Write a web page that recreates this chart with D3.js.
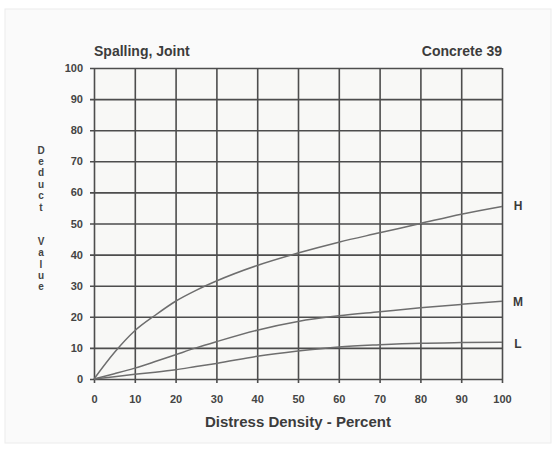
<!DOCTYPE html>
<html>
<head>
<meta charset="utf-8">
<script src="https://cdn.jsdelivr.net/npm/d3@7"></script>
<style>
  html, body { margin: 0; padding: 0; background: #ffffff; }
  svg { display: block; }
  text { font-family: "Liberation Sans", Arial, sans-serif; }
</style>
</head>
<body>
<svg id="chart" width="559" height="454"></svg>
<script>
// Distress density (percent) at which each curve is sampled
const density = [0, 5, 10, 15, 20, 25, 30, 40, 50, 60, 70, 80, 90, 100];
// Deduct values per severity level
const highValues   = [0, 8.5, 15.5, 20.5, 25, 28.5, 31.5, 36.5, 40.5, 44, 47, 50, 53, 55.5];
const mediumValues = [0, 1.7, 3.5, 5.6, 7.8, 10, 12, 15.7, 18.5, 20.3, 21.6, 22.9, 24, 25];
const lowValues    = [0, 0.7, 1.5, 2.2, 3, 4, 5, 7.3, 9, 10.3, 11, 11.5, 11.7, 11.8];
const severityLabels = ["H", "M", "L"];
const xTicks = [0, 10, 20, 30, 40, 50, 60, 70, 80, 90, 100];
const yTicks = [0, 10, 20, 30, 40, 50, 60, 70, 80, 90, 100];

const svg = d3.select("#chart");

// paper card
svg.append("rect")
  .attr("x", 5).attr("y", 9).attr("width", 546).attr("height", 434)
  .attr("fill", "#fafafa").attr("stroke", "#ececec").attr("stroke-width", 1);

const plotLeft = 94, plotRight = 502, plotTop = 68, plotBottom = 379;
const w = plotRight - plotLeft, h = plotBottom - plotTop;

const x = d3.scaleLinear().domain([0, 100]).range([plotLeft, plotRight]);
const y = d3.scaleLinear().domain([0, 100]).range([plotBottom, plotTop]);

// plot background
svg.append("rect")
  .attr("x", plotLeft).attr("y", plotTop).attr("width", w).attr("height", h)
  .attr("fill", "#f8f8f6");

const gridColor = "#4d4d4d";

// horizontal grid lines with value labels
const yAxis = svg.append("g")
  .attr("transform", `translate(${plotRight},0)`)
  .call(d3.axisLeft(y).tickValues(yTicks).tickSize(w + 4).tickPadding(7));
yAxis.select(".domain").remove();
yAxis.selectAll("line").attr("stroke", gridColor).attr("stroke-width", 1.6);
yAxis.selectAll("text")
  .attr("fill", "#444").attr("font-size", 11).attr("font-weight", "bold");

// vertical grid lines with value labels
const xAxis = svg.append("g")
  .attr("transform", `translate(0,${plotTop})`)
  .call(d3.axisBottom(x).tickValues(xTicks).tickSize(h + 4).tickPadding(12));
xAxis.select(".domain").remove();
xAxis.selectAll("line").attr("stroke", gridColor).attr("stroke-width", 1.6);
xAxis.selectAll("text")
  .attr("fill", "#444").attr("font-size", 11).attr("font-weight", "bold");

// deduct curves
const series = [highValues, mediumValues, lowValues];
const line = d3.line()
  .x((d, i) => x(density[i]))
  .y(d => y(d))
  .curve(d3.curveMonotoneX);

svg.append("g").selectAll("path")
  .data(series)
  .join("path")
  .attr("d", d => line(d))
  .attr("fill", "none")
  .attr("stroke", "#6e6e6e")
  .attr("stroke-width", 1.5);

// severity labels at curve ends
const labelOffsets = [-1, 1, 1];
svg.append("g").selectAll("text")
  .data(series)
  .join("text")
  .attr("x", plotRight + 16)
  .attr("y", (d, i) => y(d[d.length - 1]) + labelOffsets[i])
  .attr("dy", "0.35em")
  .attr("text-anchor", "middle")
  .attr("font-size", 12)
  .attr("font-weight", "bold")
  .attr("fill", "#3a3a3a")
  .text((d, i) => severityLabels[i]);

// chart headings
svg.append("text")
  .attr("x", plotLeft).attr("y", 56)
  .attr("font-size", 14).attr("font-weight", "bold").attr("fill", "#3c3c3c")
  .text("Spalling, Joint");
svg.append("text")
  .attr("x", plotRight).attr("y", 56)
  .attr("text-anchor", "end")
  .attr("font-size", 14).attr("font-weight", "bold").attr("fill", "#3c3c3c")
  .text("Concrete 39");

// x axis title
svg.append("text")
  .attr("x", (plotLeft + plotRight) / 2).attr("y", 427)
  .attr("text-anchor", "middle")
  .attr("font-size", 15).attr("font-weight", "bold").attr("fill", "#3c3c3c")
  .text("Distress Density - Percent");

// y axis title, letters stacked vertically
const yTitle = "Deduct  Value".split("");
svg.append("g").selectAll("text")
  .data(yTitle)
  .join("text")
  .attr("x", 41)
  .attr("y", (d, i) => 150 + i * 11.4)
  .attr("dy", "0.35em")
  .attr("text-anchor", "middle")
  .attr("font-size", 10)
  .attr("font-weight", "bold")
  .attr("fill", "#444")
  .text(d => d);
</script>
</body>
</html>
